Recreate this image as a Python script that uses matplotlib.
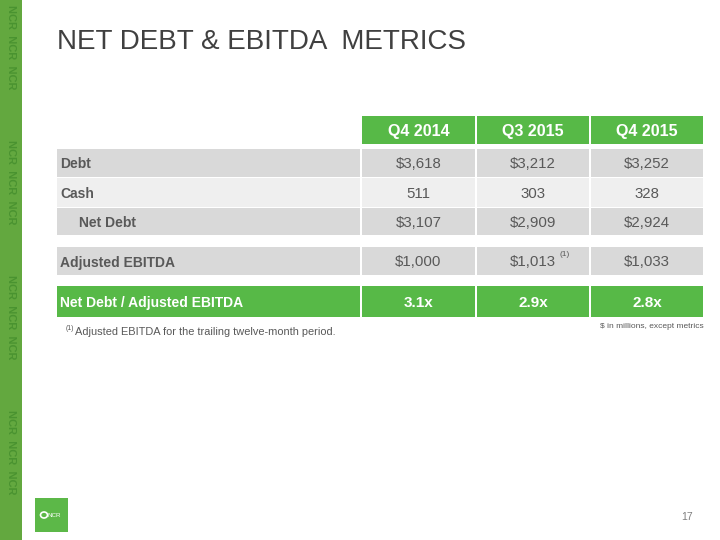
import matplotlib
matplotlib.use("Agg")
import matplotlib.pyplot as plt
from matplotlib.patches import Rectangle, Ellipse

plt.rcParams["font.family"] = ["Liberation Sans", "DejaVu Sans"]

# data
periods = ["Q4 2014", "Q3 2015", "Q4 2015"]
row_labels = ["Debt", "Cash", "Net Debt", "Adjusted EBITDA", "Net Debt / Adjusted EBITDA"]
debt = [3618, 3212, 3252]
cash = [511, 303, 328]
net_debt = [3107, 2909, 2924]
adj_ebitda = [1000, 1013, 1033]
leverage = [3.1, 2.9, 2.8]

GREEN = "#57b947"
GREY = "#d9d9d9"
LIGHT = "#efefef"
TXT = "#595959"

fig = plt.figure(figsize=(7.2, 5.4), dpi=100)
ax = fig.add_axes([0, 0, 1, 1])
ax.set_xlim(0, 720)
ax.set_ylim(540, 0)
ax.axis("off")

# left decorative stripe
ax.add_patch(Rectangle((0, 0), 22, 540, color="#63a83f", lw=0))
for y0 in [5, 140, 275, 410]:
    ax.text(11, y0, "NCR  NCR  NCR", rotation=-90, color="#3f8a2a", fontsize=8,
            fontweight="bold", ha="center", va="top", alpha=0.7)

# title
ax.text(57, 42, "NET DEBT & EBITDA  METRICS", fontsize=20, color="#404040",
        ha="left", va="center")

# table geometry
col_edges = [57, 361, 476, 590, 704]
header_y = (116, 144)
row_y = [(149, 177), (178, 207), (208, 235), (247, 275), (286, 317)]
row_colors = [GREY, LIGHT, GREY, GREY, GREEN]

# header
for i, p in enumerate(periods):
    x0, x1 = col_edges[i + 1] + 1, col_edges[i + 2] - 1
    ax.add_patch(Rectangle((x0, header_y[0]), x1 - x0, header_y[1] - header_y[0],
                           color=GREEN, lw=0))
    ax.text((x0 + x1) / 2, sum(header_y) / 2, p, color="white", fontsize=11.5,
            fontweight="bold", ha="center", va="center_baseline")

values = [
    ["$" + format(v, ",") for v in debt],
    [format(v, ",") for v in cash],
    ["$" + format(v, ",") for v in net_debt],
    ["$" + format(v, ",") for v in adj_ebitda],
    [f"{v:.1f}x" for v in leverage],
]

for r, (lab, (y0, y1), c) in enumerate(zip(row_labels, row_y, row_colors)):
    last = r == len(row_labels) - 1
    tc = "white" if last else TXT
    for j in range(4):
        x0 = col_edges[j] + (0 if j == 0 else 1)
        x1 = col_edges[j + 1] - 1
        ax.add_patch(Rectangle((x0, y0), x1 - x0, y1 - y0, color=c, lw=0))
    ym = (y0 + y1) / 2
    indent = 22 if lab == "Net Debt" else 3
    ax.text(col_edges[0] + indent, ym, lab, color=tc, fontsize=10,
            fontweight="bold", ha="left", va="center_baseline")
    for j, v in enumerate(values[r]):
        xm = (col_edges[j + 1] + col_edges[j + 2]) / 2
        ax.text(xm, ym, v, color=tc, fontsize=10.8 if not last else 11,
                fontweight="bold" if last else "normal", ha="center",
                va="center_baseline")

# footnote marker on Q3 2015 adjusted EBITDA
ax.text(560, 255, "(1)", fontsize=6, color=TXT, ha="left", va="center")

ax.text(66, 329, "(1)", fontsize=5, color=TXT, ha="left", va="center")
ax.text(75, 332, "Adjusted EBITDA for the trailing twelve-month period.", fontsize=7.9,
        color=TXT, ha="left", va="center")
ax.text(704, 326, "$ in millions, except metrics", fontsize=6, color=TXT,
        ha="right", va="center")

# logo
ax.add_patch(Rectangle((35, 498), 33, 34, color="#5cb848", lw=0))
ax.add_patch(Ellipse((44, 515), 7, 6, fill=False, ec="white", lw=1.2))
ax.text(48, 515.5, "NCR", fontsize=4.5, color="white", ha="left", va="center")

# page number
ax.text(693, 517, "17", fontsize=7.5, color="#7f7f7f", ha="right", va="center")

fig.savefig("out.png", dpi=100)
